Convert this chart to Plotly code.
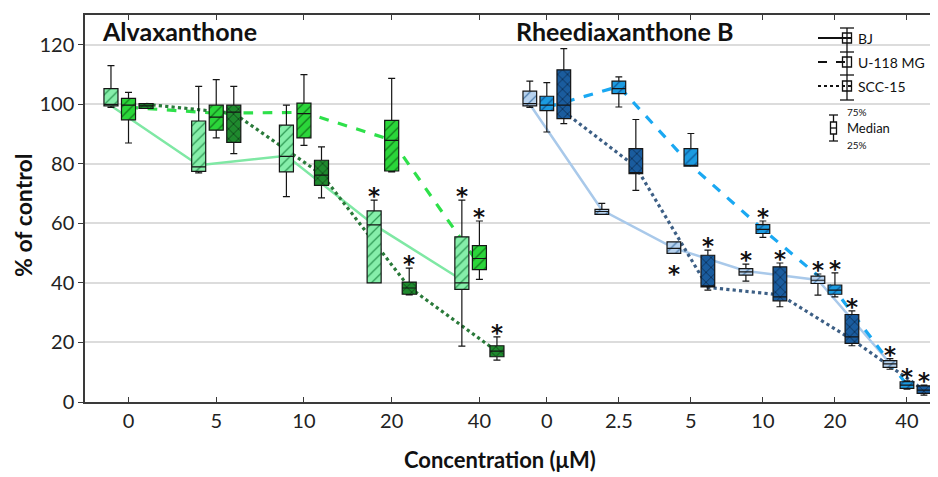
import plotly.graph_objects as go

# ---------------- data ----------------
left_conc = ["0", "5", "10", "20", "40"]
right_conc = ["0", "2.5", "5", "10", "20", "40"]

# Alvaxanthone
alva_bj_q1 = [99.5, 77.5, 77.3, 40.0, 37.8]
alva_bj_med = [100.0, 79.0, 82.5, 59.5, 40.0]
alva_bj_q3 = [105.3, 94.4, 93.0, 64.2, 55.5]
alva_bj_lo = [99.0, 77.0, 69.0, 40.0, 18.8]
alva_bj_hi = [113.0, 106.0, 99.7, 67.8, 67.8]
alva_bj_line = [99.5, 79.5, 82.7, 59.5, 41.0]
alva_bj_sig = [0, 0, 0, 1, 1]

alva_u_q1 = [94.8, 91.3, 88.7, 77.6, 44.5]
alva_u_med = [99.7, 95.7, 96.9, 87.9, 48.2]
alva_u_q3 = [102.0, 99.7, 100.4, 94.6, 52.5]
alva_u_lo = [87.0, 88.7, 86.2, 77.3, 41.2]
alva_u_hi = [104.0, 108.3, 110.0, 108.7, 60.8]
alva_u_line = [99.0, 97.0, 97.3, 88.0, 46.0]
alva_u_sig = [0, 0, 0, 0, 1]

alva_scc_q1 = [98.6, 87.2, 72.8, 36.2, 15.2]
alva_scc_med = [99.5, 97.4, 76.2, 38.3, 17.1]
alva_scc_q3 = [100.2, 99.7, 81.2, 40.3, 18.9]
alva_scc_lo = [98.6, 83.4, 68.6, 36.0, 14.1]
alva_scc_hi = [100.2, 106.0, 85.7, 45.0, 21.9]
alva_scc_line = [100.0, 97.0, 76.5, 38.5, 17.0]
alva_scc_sig = [0, 0, 0, 1, 1]

# Rheediaxanthone B
rhee_bj_q1 = [99.5, 63.0, 49.9, 42.6, 39.8, 11.6]
rhee_bj_med = [100.2, 64.0, 51.6, 43.7, 40.9, 12.8]
rhee_bj_q3 = [104.4, 64.7, 53.8, 44.8, 42.3, 13.9]
rhee_bj_lo = [99.0, 63.0, 49.9, 40.6, 35.9, 11.0]
rhee_bj_hi = [107.8, 66.7, 53.8, 46.3, 43.0, 14.6]
rhee_bj_line = [100.0, 64.5, 51.7, 44.0, 41.0, 13.0]
rhee_bj_sig = [0, 0, -1, 1, 1, 1]   # -1: star below the box

rhee_u_q1 = [97.9, 103.6, 79.2, 56.6, 36.2, 4.6]
rhee_u_med = [99.7, 105.3, 79.5, 58.0, 37.6, 5.7]
rhee_u_q3 = [102.7, 107.8, 85.1, 59.6, 39.3, 6.8]
rhee_u_lo = [90.7, 99.1, 79.2, 55.3, 35.3, 4.3]
rhee_u_hi = [107.3, 109.2, 90.2, 60.8, 43.4, 7.1]
rhee_u_line = [99.0, 106.0, 79.5, 58.0, 37.6, 5.7]
rhee_u_sig = [0, 0, 0, 1, 1, 1]

rhee_scc_q1 = [95.2, 76.7, 38.7, 34.0, 19.7, 2.9]
rhee_scc_med = [99.7, 77.0, 39.0, 35.3, 21.9, 4.0]
rhee_scc_q3 = [111.6, 85.1, 49.3, 45.4, 29.4, 5.4]
rhee_scc_lo = [93.5, 71.1, 37.6, 32.0, 18.9, 2.3]
rhee_scc_hi = [118.7, 94.9, 51.0, 46.7, 30.6, 5.7]
rhee_scc_line = [97.5, 79.0, 38.5, 36.0, 21.0, 4.0]
rhee_scc_sig = [0, 0, 1, 1, 1, 1]

series_names = ["BJ", "U-118 MG", "SCC-15"]

# ---------------- styling ----------------
BODY = 8                      # default page margin around the plot div
W, H = 938 - BODY, 477 - BODY
PL, PT, PR, PB = 85, 15, 937, 402   # plot area in page pixels
ML, MT = PL - BODY, PT - BODY
MR = W - (PR - BODY)
MB = H - (PB - BODY)
PW, PH = PR - PL, PB - PT
FONT = "Lato"


def X(px):
    return (px - PL) / PW


def Y(py):
    return (PB - py) / PH


panels = [
    dict(xa="x", conc=left_conc, offset=0.2, width=0.16,
         series=[
             (alva_bj_q1, alva_bj_med, alva_bj_q3, alva_bj_lo, alva_bj_hi, alva_bj_line, alva_bj_sig),
             (alva_u_q1, alva_u_med, alva_u_q3, alva_u_lo, alva_u_hi, alva_u_line, alva_u_sig),
             (alva_scc_q1, alva_scc_med, alva_scc_q3, alva_scc_lo, alva_scc_hi, alva_scc_line, alva_scc_sig),
         ],
         fill=["#86eeaa", "#2bd63a", "#1f8a2e"],
         hatch=["#2f9a55", "#137a1c", "#0a2e10"],
         shape=["/", "/", "x"],
         lcol=["#7fe8a4", "#2ee04a", "#2a7a3a"]),
    dict(xa="x2", conc=right_conc, offset=0.236, width=0.19,
         series=[
             (rhee_bj_q1, rhee_bj_med, rhee_bj_q3, rhee_bj_lo, rhee_bj_hi, rhee_bj_line, rhee_bj_sig),
             (rhee_u_q1, rhee_u_med, rhee_u_q3, rhee_u_lo, rhee_u_hi, rhee_u_line, rhee_u_sig),
             (rhee_scc_q1, rhee_scc_med, rhee_scc_q3, rhee_scc_lo, rhee_scc_hi, rhee_scc_line, rhee_scc_sig),
         ],
         fill=["#b7d2ee", "#1c9be0", "#1a5c9e"],
         hatch=["#4f7fae", "#0d5a9a", "#08213f"],
         shape=["/", "/", "x"],
         lcol=["#a9c9ea", "#1aa8f2", "#3d5f85"]),
]
dashes = ["solid", "dash", "dot"]
lwidths = [2.5, 3.2, 3.2]

fig = go.Figure()
ann = []

for p in panels:
    n = len(p["conc"])
    for k, (q1, med, q3, lo, hi, line, sig) in enumerate(p["series"]):
        pos = [i + (k - 1) * p["offset"] for i in range(n)]
        # connecting line (below boxes)
        fig.add_trace(go.Scatter(
            x=pos, y=line, mode="lines", xaxis=p["xa"], yaxis="y",
            line=dict(color=p["lcol"][k], width=lwidths[k], dash=dashes[k]),
            hoverinfo="skip", showlegend=False))
        # hatched interquartile fill
        fig.add_trace(go.Bar(
            x=pos, y=[b - a for a, b in zip(q1, q3)], base=q1, width=p["width"],
            xaxis=p["xa"], yaxis="y2",
            marker=dict(color=p["fill"][k], line=dict(width=0),
                        pattern=dict(shape=p["shape"][k], fillmode="overlay",
                                     bgcolor=p["fill"][k], fgcolor=p["hatch"][k],
                                     fgopacity=1, size=7, solidity=0.18)),
            hoverinfo="skip", showlegend=False))
        # box outline, median and whiskers
        fig.add_trace(go.Box(
            x=pos, q1=q1, median=med, q3=q3, lowerfence=lo, upperfence=hi,
            width=p["width"], xaxis=p["xa"], yaxis="y2",
            fillcolor="rgba(0,0,0,0)", line=dict(color="#151515", width=1.2),
            whiskerwidth=0.5, boxpoints=False, hoverinfo="skip", showlegend=False))
        # significance stars
        for x, h, l, s in zip(pos, hi, lo, sig):
            if s == 0:
                continue
            ann.append(dict(text="<b>*</b>", x=x, y=h if s > 0 else l,
                            xref=p["xa"], yref="y2", showarrow=False,
                            xanchor="center", yanchor="middle",
                            yshift=4 if s > 0 else -21,
                            font=dict(family="DejaVu Sans", size=23, color="#111")))

split = X(518)
axis_common = dict(showgrid=False, zeroline=False, showline=True, linecolor="#3a3a3a",
                   linewidth=1.5, ticks="inside", ticklen=5, tickcolor="#3a3a3a",
                   mirror="ticks",
                   tickfont=dict(family=FONT, size=20, color="#222"), fixedrange=True)
fig.update_layout(
    width=W, height=H, autosize=False,
    margin=dict(l=ML, r=MR, t=MT, b=MB),
    paper_bgcolor="white", plot_bgcolor="white",
    barmode="overlay", boxmode="overlay",
    showlegend=False,
    xaxis=dict(domain=[0, split], range=[-0.496, 4.44], anchor="y",
               tickvals=list(range(len(left_conc))), ticktext=left_conc, **axis_common),
    xaxis2=dict(domain=[split, 1], range=[-0.4, 5.417], anchor="y",
                tickvals=list(range(len(right_conc))), ticktext=right_conc, **axis_common),
    yaxis=dict(range=[0, 130], tickvals=[0, 20, 40, 60, 80, 100, 120], anchor="x",
               showgrid=True, gridcolor="#dcdcdc", gridwidth=1.5, zeroline=False,
               showline=True, linecolor="#3a3a3a", linewidth=1.5,
               ticks="outside", ticklen=5, tickcolor="#3a3a3a",
               tickfont=dict(family=FONT, size=20, color="#222"), fixedrange=True),
    yaxis2=dict(range=[0, 130], overlaying="y", anchor="x", visible=False, fixedrange=True),
)

ann.append(dict(text="<b>% of control</b>", x=X(23), y=Y(216), xref="paper", yref="paper",
                xanchor="center", yanchor="middle",
                textangle=-90, showarrow=False, font=dict(family=FONT, size=23, color="#111")))
ann.append(dict(text="<b>Concentration (μM)</b>", x=X(500), y=Y(459), xref="paper", yref="paper",
                xanchor="center", yanchor="middle",
                showarrow=False, font=dict(family=FONT, size=22, color="#111")))
ann.append(dict(text="<b>Alvaxanthone</b>", x=X(100), y=Y(31), xref="paper", yref="paper",
                xanchor="left", yanchor="middle", showarrow=False,
                font=dict(family=FONT, size=25, color="#111")))
ann.append(dict(text="<b>Rheediaxanthone B</b>", x=X(514), y=Y(31), xref="paper", yref="paper",
                xanchor="left", yanchor="middle", showarrow=False,
                font=dict(family=FONT, size=25, color="#111")))

# legend (drawn manually)
shapes = []
ln = dict(color="#111", width=1.3)
leg_rows = [38, 62, 86]
shapes.append(dict(type="line", xref="paper", yref="paper", x0=X(847), x1=X(847), y0=Y(28), y1=Y(100), line=ln))
for yc in [28, 52, 75, 100]:
    shapes.append(dict(type="line", xref="paper", yref="paper", x0=X(840), x1=X(854), y0=Y(yc), y1=Y(yc), line=ln))
for name, dash, yc in zip(series_names, dashes, leg_rows):
    shapes.append(dict(type="line", xref="paper", yref="paper", x0=X(818), x1=X(852), y0=Y(yc), y1=Y(yc),
                       line=dict(color="#111", width=2.2, dash=dash)))
    shapes.append(dict(type="rect", xref="paper", yref="paper", x0=X(842.5), x1=X(851.5), y0=Y(yc - 5), y1=Y(yc + 5),
                       line=ln, fillcolor="rgba(0,0,0,0)"))
    ann.append(dict(text=name, x=X(856), y=Y(yc), xref="paper", yref="paper", xanchor="left",
                    yanchor="middle", showarrow=False, font=dict(family=FONT, size=14, color="#111")))
# box explanation icon
shapes.append(dict(type="line", xref="paper", yref="paper", x0=X(833.5), x1=X(833.5), y0=Y(115), y1=Y(141), line=ln))
for yc in [115, 141]:
    shapes.append(dict(type="line", xref="paper", yref="paper", x0=X(829), x1=X(838), y0=Y(yc), y1=Y(yc), line=ln))
shapes.append(dict(type="rect", xref="paper", yref="paper", x0=X(830.5), x1=X(836.5), y0=Y(122), y1=Y(134),
                   line=ln, fillcolor="white"))
shapes.append(dict(type="line", xref="paper", yref="paper", x0=X(830.5), x1=X(836.5), y0=Y(128), y1=Y(128), line=ln))
for txt, yc, sz in [("75%", 112, 10), ("Median", 128, 13), ("25%", 145, 10)]:
    ann.append(dict(text=txt, x=X(845), y=Y(yc), xref="paper", yref="paper", xanchor="left",
                    yanchor="middle", showarrow=False, font=dict(family=FONT, size=sz, color="#111")))

fig.update_layout(annotations=ann, shapes=shapes)
fig.write_html("out.html")
